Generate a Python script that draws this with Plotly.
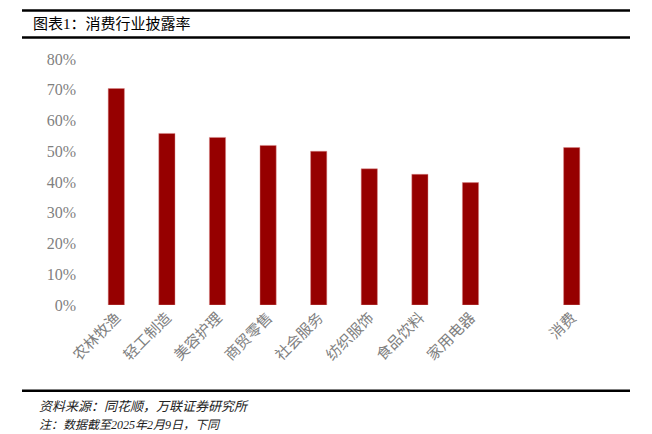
import plotly.graph_objects as go

categories = ["农林牧渔", "轻工制造", "美容护理", "商贸零售", "社会服务", "纺织服饰", "食品饮料", "家用电器", " ", "消费"]
values = [70.4, 55.8, 54.5, 51.9, 50.0, 44.3, 42.5, 39.8, None, 51.2]
y_ticks = [0, 10, 20, 30, 40, 50, 60, 70, 80]
y_tick_labels = [f"{v}%" for v in y_ticks]
title_text = "图表1：消费行业披露率"
source_text = "资料来源：同花顺，万联证券研究所"
note_text = "注：数据截至2025年2月9日，下同"

# page body has an 8px margin; work in window pixels and offset
OFF = 8
W, H = 652 - OFF, 434 - OFF
# plot area in window pixels
X0, X1, Y0, Y1 = 91, 597, 58.5, 305
L, T = X0 - OFF, Y0 - OFF
R, B = W - (X1 - OFF), H - (Y1 - OFF)
PW, PH = W - L - R, H - T - B


def px(x):
    return (x - OFF - L) / PW


def py(y):
    return (H - B - (y - OFF)) / PH


fig = go.Figure()
fig.add_trace(go.Bar(
    x=categories, y=values,
    marker=dict(color="#960000", line=dict(color="rgba(220,140,140,0.8)", width=0.6)),
    hoverinfo="x+y",
))

serif = "Liberation Serif, Noto Sans CJK SC, serif"

fig.update_layout(
    width=W, height=H,
    margin=dict(l=L, r=R, t=T, b=B, pad=0),
    paper_bgcolor="white", plot_bgcolor="white",
    showlegend=False,
    bargap=0.68,
    xaxis=dict(
        type="category", tickangle=-45, showgrid=False, showline=False, zeroline=False,
        ticks="", tickfont=dict(family=serif, size=15, color="#808080"),
    ),
    yaxis=dict(
        range=[0, 80], tickvals=y_ticks, ticktext=y_tick_labels,
        showgrid=False, showline=False, zeroline=False, ticks="",
        ticklabelstandoff=14,
        tickfont=dict(family=serif, size=16, color="#7f7f7f"),
    ),
)

for y, w in [(10, 2.5), (37, 2.5), (391, 2.5)]:
    fig.add_shape(type="line", xref="paper", yref="paper",
                  x0=px(22), x1=px(630), y0=py(y), y1=py(y),
                  line=dict(color="black", width=w))

fig.add_annotation(text=title_text, xref="paper", yref="paper",
                   x=px(31), y=py(23), xanchor="left", yanchor="middle",
                   showarrow=False, font=dict(family=serif, size=15, color="black"))
fig.add_annotation(text=f"<i>{source_text}</i>", xref="paper", yref="paper",
                   x=px(37), y=py(407), xanchor="left", yanchor="middle",
                   showarrow=False, font=dict(family=serif, size=13, color="#222222"))
fig.add_annotation(text=f"<i>{note_text}</i>", xref="paper", yref="paper",
                   x=px(37), y=py(425), xanchor="left", yanchor="middle",
                   showarrow=False, font=dict(family=serif, size=12, color="#222222"))

fig.write_html("out.html")
